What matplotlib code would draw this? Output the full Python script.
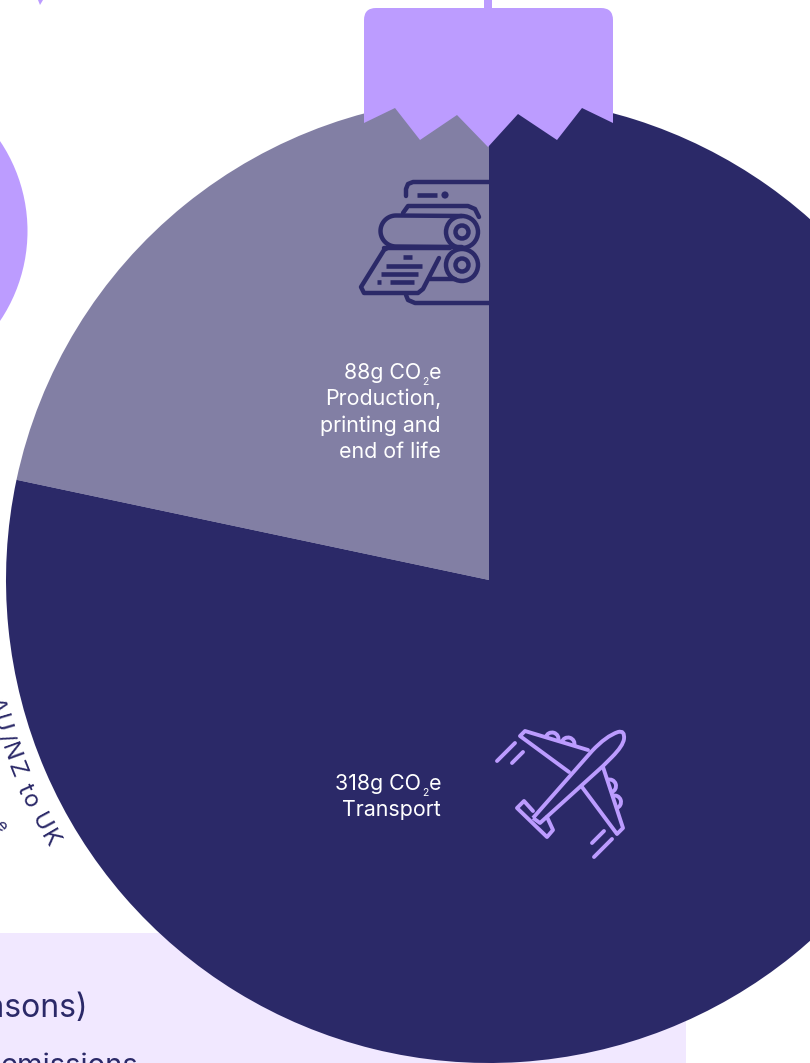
#!/usr/bin/env python

import matplotlib
matplotlib.use("Agg")
import matplotlib.pyplot as plt
from matplotlib.patches import Circle, FancyBboxPatch, Polygon, Rectangle, Arc, PathPatch
from matplotlib.path import Path
from matplotlib.textpath import TextPath
from matplotlib.font_manager import FontProperties
import numpy as np

plt.rcParams['font.family'] = ['Inter', 'DejaVu Sans']

PURPLE = "#bc9cff"
NAVY = "#2b2968"
GREY = "#827fa4"
PANEL = "#f1e8ff"

# grams of CO2e per item
production = 88
transport = 318
values = [production, transport]
slice_colors = [GREY, NAVY]

production_lines = ["Production,", "printing and", "end of life"]
transport_lines = ["Transport"]
curve_label = "AU/NZ to UK"
panel_heading = "(for all seasons)"
panel_body = "emissions"

fig = plt.figure(figsize=(8.1, 10.63), dpi=100)
ax = fig.add_axes([0, 0, 1, 1])


def stroke(pts, color=NAVY, lw=3.2, z=5, cap='round'):
    xs, ys = zip(*pts)
    ax.plot(xs, ys, color=color, lw=lw, solid_capstyle=cap, solid_joinstyle='round', zorder=z)


def bar(x0, x1, y):
    stroke([(x0, y), (x1, y)], lw=3.3, cap='butt')


def ring(x, y, r, color=NAVY, lw=3.2, z=5):
    ax.add_patch(Circle((x, y), r, fill=False, ec=color, lw=lw, zorder=z))


def bump(x, y, angle):
    ax.add_patch(Arc((x, y), 13, 13, angle=angle, theta1=180, theta2=360, ec=PURPLE, lw=2.8, zorder=5))


# background shapes
ax.add_patch(Circle((-133.5, 231), 161, color=PURPLE, lw=0, zorder=1))
ax.add_patch(Polygon([(38, 0), (43, 0), (40, 5)], color=PURPLE, lw=0, zorder=1))
ax.add_patch(Rectangle((-5, 933), 691, 140, color=PANEL, lw=0, zorder=1))

# the bauble itself, y axis is flipped so the angles run the other way
ax.pie(values, colors=slice_colors, center=(489, 580), radius=483, startangle=-90,
       counterclock=False, wedgeprops=dict(lw=0, zorder=2))

ax.set_xlim(0, 810)
ax.set_ylim(1063, 0)
ax.set_aspect('auto')
ax.axis('off')

# cap with torn lower edge
r = 12
ax.add_patch(Rectangle((484, -2), 8, 12, color=PURPLE, lw=0, zorder=3))
ax.add_patch(FancyBboxPatch((364 + r, 8 + r), 249 - 2 * r, 30, boxstyle="round,pad=%d,rounding_size=%d" % (r, r),
                            fc=PURPLE, ec='none', zorder=3))
ax.add_patch(Polygon([(364, 40), (364, 123), (395, 108), (420, 140), (457, 115), (488, 147),
                      (518, 114), (557, 140), (582, 108), (613, 123), (613, 40)],
                     fc=PURPLE, ec='none', zorder=3))

# printing press icon
stroke([(406, 196), (406, 189), (408, 184), (413, 182), (489, 182)])
bar(417, 437, 195)
ax.add_patch(Circle((445, 195), 3.6, color=NAVY, lw=0, zorder=5))
stroke([(403, 213), (408, 206), (468, 206), (475, 209), (479, 217)])
t = np.radians(np.linspace(90, 270, 30))
stroke([(462, 216)] + [(396 + 15.5 * np.cos(a), 231 - 15.5 * np.sin(a)) for a in t] + [(462, 247)])
ring(462, 232, 16)
ring(462, 232, 6.5)
ring(462, 265, 16)
ring(462, 265, 6.5)
stroke([(389, 247), (384, 250), (361, 287), (364, 293), (418, 293), (423, 289), (439, 258)])
stroke([(384, 248), (450, 248)])
bar(403, 412, 257)
bar(386, 422, 266)
bar(381, 418, 274)
bar(377, 381, 282)
bar(390, 414, 282)
stroke([(430, 279), (455, 279)])
stroke([(406, 295), (408, 300), (415, 303), (489, 303)])

# plane icon
body = [(533, 818), (592, 751), (606, 736), (618, 732), (625, 730), (624, 739), (623, 746), (612, 757),
        (603, 766), (540, 823), (533, 818)]
codes = [Path.MOVETO, Path.LINETO, Path.CURVE3, Path.CURVE3, Path.CURVE3, Path.CURVE3, Path.CURVE3, Path.CURVE3,
         Path.LINETO, Path.LINETO, Path.LINETO]
ax.add_patch(PathPatch(Path(body, codes), fc='none', ec=PURPLE, lw=2.8, joinstyle='round', zorder=5))
stroke([(588, 750), (525, 731), (520, 736), (569, 772)], color=PURPLE, lw=2.8)
stroke([(603, 767), (623, 828), (617, 834), (582, 787)], color=PURPLE, lw=2.8)
stroke([(533, 811), (524, 801), (517, 808), (547, 837), (553, 830), (547, 817)], color=PURPLE, lw=2.8)
bump(552, 739, 17)
bump(568, 744, 17)
bump(609.5, 786, 72)
bump(614.5, 802, 72)
stroke([(515, 743), (497, 761)], color=PURPLE, lw=2.8)
stroke([(523, 752), (512, 763)], color=PURPLE, lw=2.8)
stroke([(604, 831), (592, 843)], color=PURPLE, lw=2.8)
stroke([(612, 839), (594, 857)], color=PURPLE, lw=2.8)

# slice labels, the subscript is set by hand so it can sit lower than mathtext puts it
fs = 15.4


def co2_line(value, y):
    ax.text(441, y, "e", color="white", fontsize=fs, ha='right', va='baseline', zorder=6)
    ax.text(428.5, y + 6, "2", color="white", fontsize=7.5, ha='right', va='baseline', zorder=6)
    ax.text(421, y, f"{value}g CO", color="white", fontsize=fs, ha='right', va='baseline', zorder=6)


co2_line(production, 379)
for y, s in zip([405, 432, 458], production_lines):
    ax.text(441, y, s, color="white", fontsize=fs, ha='right', va='baseline', zorder=6)
co2_line(transport, 790)
for y, s in zip([816], transport_lines):
    ax.text(441, y, s, color="white", fontsize=fs, ha='right', va='baseline', zorder=6)

# label running round the outside of the bauble
cx, cy, rad = 489, 580, 510
curve_fs = 17
fp = FontProperties(family='Inter', size=curve_fs)
n_width = TextPath((0, 0), "n", prop=fp).get_extents().width
widths = [(TextPath((0, 0), c + "n", prop=fp).get_extents().width - n_width) * 100 / 72 + 1.5
          if c != " " else 7 for c in curve_label]
pos = np.radians(148.6)
for c, w in zip(curve_label[::-1], widths[::-1]):
    pos += w / 2 / rad
    ax.text(cx + rad * np.cos(pos), cy + rad * np.sin(pos), c, color=NAVY, fontsize=curve_fs,
            rotation=90 - np.degrees(pos), rotation_mode='anchor',
            ha='center', va='center', zorder=2)
    pos += w / 2 / rad
ax.text(1, 826, "e", color=NAVY, fontsize=12, rotation=-50, ha='center', va='center', zorder=2)

# panel text, cut by the left edge
ax.text(88, 1017, panel_heading, color=NAVY, fontsize=23, ha='right', va='baseline', zorder=2)
ax.text(138, 1074, panel_body, color=NAVY, fontsize=21, ha='right', va='baseline', zorder=2)

fig.savefig("out.png", dpi=100)
